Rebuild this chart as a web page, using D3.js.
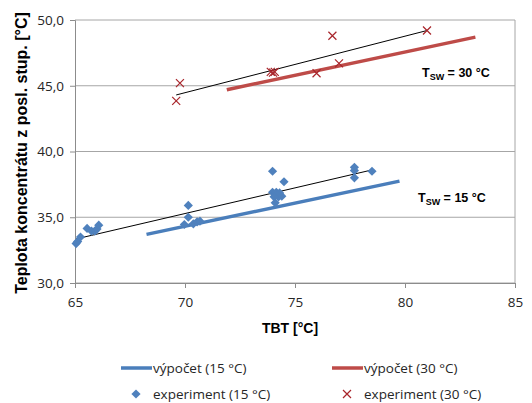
<!DOCTYPE html>
<html>
<head>
<meta charset="utf-8">
<script src="https://cdn.jsdelivr.net/npm/d3@7"></script>
<style>
  body { margin: 0; background: #fff; }
  svg { font-family: "Liberation Sans", Arial, sans-serif; }
</style>
</head>
<body>
<div id="chart"></div>
<script>
// data
const xTicks = [65, 70, 75, 80, 85];
const yTicks = [30, 35, 40, 45, 50];

const calc15 = [[68.25, 33.7], [79.75, 37.75]];
const calc30 = [[71.9, 44.7], [83.2, 48.7]];

const trend15 = [[65.05, 33.35], [78.5, 38.6]];
const trend30 = [[69.6, 44.3], [81.0, 49.2]];

const exp15 = [
  [65.05, 33.0], [65.12, 33.15], [65.25, 33.5], [65.55, 34.15], [65.75, 33.95],
  [65.9, 33.95], [66.0, 34.1], [66.08, 34.4],
  [69.97, 34.45], [70.15, 35.9], [70.15, 35.0], [70.38, 34.5], [70.55, 34.65], [70.68, 34.7],
  [73.98, 38.5], [73.98, 36.9], [74.15, 36.9], [74.5, 37.7], [74.4, 36.6],
  [74.25, 36.55], [74.1, 36.1], [74.05, 36.55], [74.3, 36.85],
  [77.7, 38.8], [77.7, 38.55], [77.7, 38.0], [78.5, 38.5]
];
const exp30 = [
  [69.6, 43.85], [69.77, 45.2], [73.9, 46.05], [74.0, 46.0], [74.08, 46.05],
  [75.98, 45.95], [76.7, 48.8], [77.0, 46.7], [81.0, 49.2]
];

const blue = "#4a7ebb", red = "#be4b48", crossColor = "#a8242a";

const W = 532, H = 403;
const plot = { left: 75, right: 515, top: 20, bottom: 283 };

const svg = d3.select("#chart").append("svg")
  .attr("width", W).attr("height", H);

const x = d3.scaleLinear().domain([65, 85]).range([plot.left, plot.right]);
const y = d3.scaleLinear().domain([30, 50]).range([plot.bottom, plot.top]);

// gridlines
svg.append("g")
  .selectAll("line")
  .data(yTicks)
  .enter().append("line")
  .attr("x1", plot.left).attr("x2", plot.right)
  .attr("y1", d => y(d)).attr("y2", d => y(d))
  .attr("stroke", "#a6a6a6").attr("stroke-width", 1);

// right border
svg.append("line")
  .attr("x1", plot.right).attr("x2", plot.right)
  .attr("y1", plot.top).attr("y2", plot.bottom)
  .attr("stroke", "#a6a6a6");

// axes
const xAxis = svg.append("g")
  .attr("transform", `translate(0,${plot.bottom})`)
  .call(d3.axisBottom(x).tickValues(xTicks).tickSize(5).tickPadding(9));
const yAxis = svg.append("g")
  .attr("transform", `translate(${plot.left},0)`)
  .call(d3.axisLeft(y).tickValues(yTicks).tickSize(5).tickPadding(6)
    .tickFormat(d => d3.format(".1f")(d).replace(".", ",")));

[xAxis, yAxis].forEach(g => {
  g.select(".domain").attr("stroke", "#8c8c8c");
  g.selectAll(".tick line").attr("stroke", "#8c8c8c");
  g.selectAll(".tick text").attr("fill", "#262626")
    .style("font-size", "13.5px").style("font-family", "'Open Sans', sans-serif");
});

// axis titles
svg.append("text")
  .attr("x", 290).attr("y", 333)
  .attr("text-anchor", "middle")
  .style("font-weight", "bold").style("font-size", "14px")
  .text("TBT [°C]");

svg.append("text")
  .attr("transform", "translate(27,153) rotate(-90)")
  .attr("text-anchor", "middle")
  .style("font-weight", "bold").style("font-size", "16px")
  .text("Teplota koncentrátu z posl. stup.  [°C]");

const line = d3.line().x(d => x(d[0])).y(d => y(d[1]));

// calculated lines
svg.append("path").datum(calc15).attr("d", line)
  .attr("fill", "none").attr("stroke", blue).attr("stroke-width", 3.5);
svg.append("path").datum(calc30).attr("d", line)
  .attr("fill", "none").attr("stroke", red).attr("stroke-width", 3.5);

// trend lines
[trend15, trend30].forEach(t => {
  svg.append("path").datum(t).attr("d", line)
    .attr("fill", "none").attr("stroke", "#000").attr("stroke-width", 1);
});

// excel-like diamond: square turned 45 degrees
const diamond = "M0,-4.6L4.6,0L0,4.6L-4.6,0Z";

svg.append("g").selectAll("path")
  .data(exp15)
  .enter().append("path")
  .attr("d", diamond)
  .attr("transform", d => `translate(${x(d[0])},${y(d[1])})`)
  .attr("fill", "#4f81bd");

function cross(g, cx, cy, r) {
  g.append("path")
    .attr("d", `M${cx - r},${cy - r}L${cx + r},${cy + r}M${cx - r},${cy + r}L${cx + r},${cy - r}`)
    .attr("stroke", crossColor).attr("stroke-width", 1.2).attr("fill", "none");
}
const crossG = svg.append("g");
exp30.forEach(d => cross(crossG, x(d[0]), y(d[1]), 4));

// annotations
function tsw(px, py, label) {
  const t = svg.append("text").attr("x", px).attr("y", py)
    .style("font-weight", "bold").style("font-size", "12.5px");
  t.append("tspan").text("T");
  t.append("tspan").attr("dy", 3).style("font-size", "9px").text("SW");
  t.append("tspan").attr("dy", -3).text(label);
}
tsw(422, 77, " = 30 °C");
tsw(418, 202, " = 15 °C");

// legend
const legend = svg.append("g").style("font-size", "13.5px")
  .style("font-family", "'Open Sans', sans-serif").attr("fill", "#262626");
legend.append("line").attr("x1", 121).attr("x2", 152).attr("y1", 368).attr("y2", 368)
  .attr("stroke", blue).attr("stroke-width", 3.5);
legend.append("text").attr("x", 153).attr("y", 373).text("výpočet (15 °C)");
legend.append("line").attr("x1", 332).attr("x2", 363).attr("y1", 368).attr("y2", 368)
  .attr("stroke", red).attr("stroke-width", 3.5);
legend.append("text").attr("x", 364).attr("y", 373).text("výpočet (30 °C)");
legend.append("path").attr("d", diamond)
  .attr("transform", "translate(136,394)").attr("fill", "#4f81bd");
legend.append("text").attr("x", 153).attr("y", 399).text("experiment (15 °C)");
cross(legend, 347, 394, 4);
legend.append("text").attr("x", 364).attr("y", 399).text("experiment (30 °C)");
</script>
</body>
</html>
